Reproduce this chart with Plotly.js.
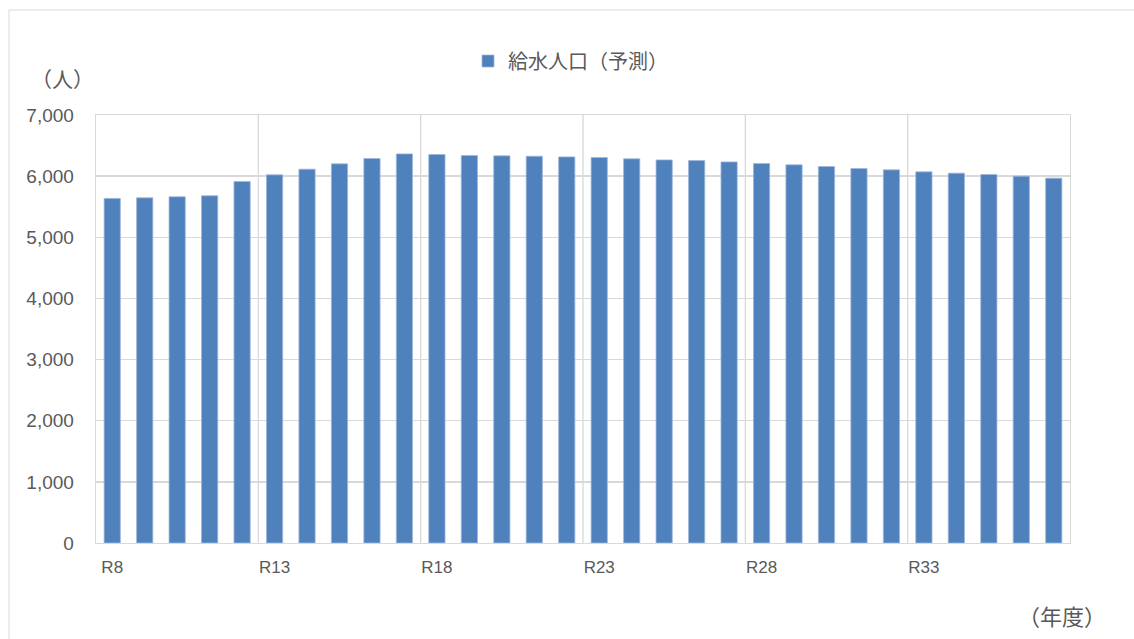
<!DOCTYPE html>
<html><head><meta charset="utf-8">
<script src="https://cdn.plot.ly/plotly-3.0.1.min.js"></script>
<style>html,body{margin:0;padding:0;background:#fff}#chart{width:1134px;height:639px}</style>
</head><body><div id="chart"></div>
<script>
const years = ["R8","R9","R10","R11","R12","R13","R14","R15","R16","R17","R18","R19","R20","R21","R22","R23","R24","R25","R26","R27","R28","R29","R30","R31","R32","R33","R34","R35","R36","R37"];
const population = [5636,5646,5662,5679,5913,6021,6114,6201,6288,6364,6354,6337,6332,6326,6315,6304,6283,6266,6255,6233,6207,6185,6157,6125,6103,6070,6049,6027,6000,5967];
const tickLabels = ["R8","R13","R18","R23","R28","R33"];
const seriesName = "給水人口（予測）";

const gridColor = "#d9d9d9";
const textColor = "#595959";
const jp = "'Noto Sans CJK JP', 'Noto Sans', sans-serif";
const num = "'Liberation Sans', Arial, sans-serif";

const ml = 96, mr = 64, mt = 115, mb = 96, W = 1134, H = 639;
const pw = W - ml - mr, ph = H - mt - mb;
const px = v => (v - ml) / pw;          // pixel -> paper x
const py = v => (H - mb - v) / ph;      // pixel -> paper y

const shapes = [];
for (let i = 5; i < years.length; i += 5) {
  shapes.push({type:"line", xref:"x", yref:"paper", x0:i-0.5, x1:i-0.5, y0:0, y1:1,
    line:{color:gridColor, width:1.3}, layer:"below"});
}
// outer chart border
shapes.push({type:"rect", xref:"paper", yref:"paper", x0:px(9), x1:px(1140), y0:py(10), y1:py(645),
  line:{color:"#d9d9d9", width:1}, fillcolor:"rgba(0,0,0,0)"});

const data = [{
  type:"bar", x:years, y:population, name:seriesName,
  marker:{color:"#4f81bd", line:{color:"#9fb8da", width:0.8}},
  width:0.5, hoverinfo:"x+y"
}];

const layout = {
  width:W, height:H,
  margin:{l:ml, r:mr, t:mt, b:mb},
  paper_bgcolor:"#fff", plot_bgcolor:"#fff",
  bargap:0.5,
  showlegend:true,
  legend:{orientation:"h", x:px(468), y:py(61), xanchor:"left", yanchor:"middle",
    font:{family:jp, size:20, color:textColor}, bgcolor:"rgba(0,0,0,0)"},
  xaxis:{type:"category", categoryorder:"array", categoryarray:years,
    range:[-0.5, years.length-0.5],
    tickmode:"array", tickvals:tickLabels, ticktext:tickLabels,
    showgrid:false, zeroline:false, ticks:"",
    showline:true, linecolor:gridColor, linewidth:1.3, mirror:true,
    tickfont:{family:num, size:17, color:textColor}, ticklabelstandoff:8},
  yaxis:{range:[0,7000], tickmode:"linear", tick0:0, dtick:1000,
    tickformat:",d", separatethousands:true,
    showgrid:true, gridcolor:gridColor, gridwidth:1.3, zeroline:false,
    showline:true, linecolor:gridColor, linewidth:1.3, mirror:true, ticks:"",
    tickfont:{family:num, size:19, color:textColor}, ticklabelstandoff:17},
  shapes:shapes,
  annotations:[
    {text:"（人）", xref:"paper", yref:"paper", x:px(62), y:py(78), xanchor:"center", yanchor:"middle",
      showarrow:false, font:{family:jp, size:21, color:textColor}},
    {text:"（年度）", xref:"paper", yref:"paper", x:px(1062), y:py(615), xanchor:"center", yanchor:"middle",
      showarrow:false, font:{family:jp, size:22, color:textColor}}
  ]
};

Plotly.newPlot("chart", data, layout, {displayModeBar:false, staticPlot:true});
</script></body></html>
